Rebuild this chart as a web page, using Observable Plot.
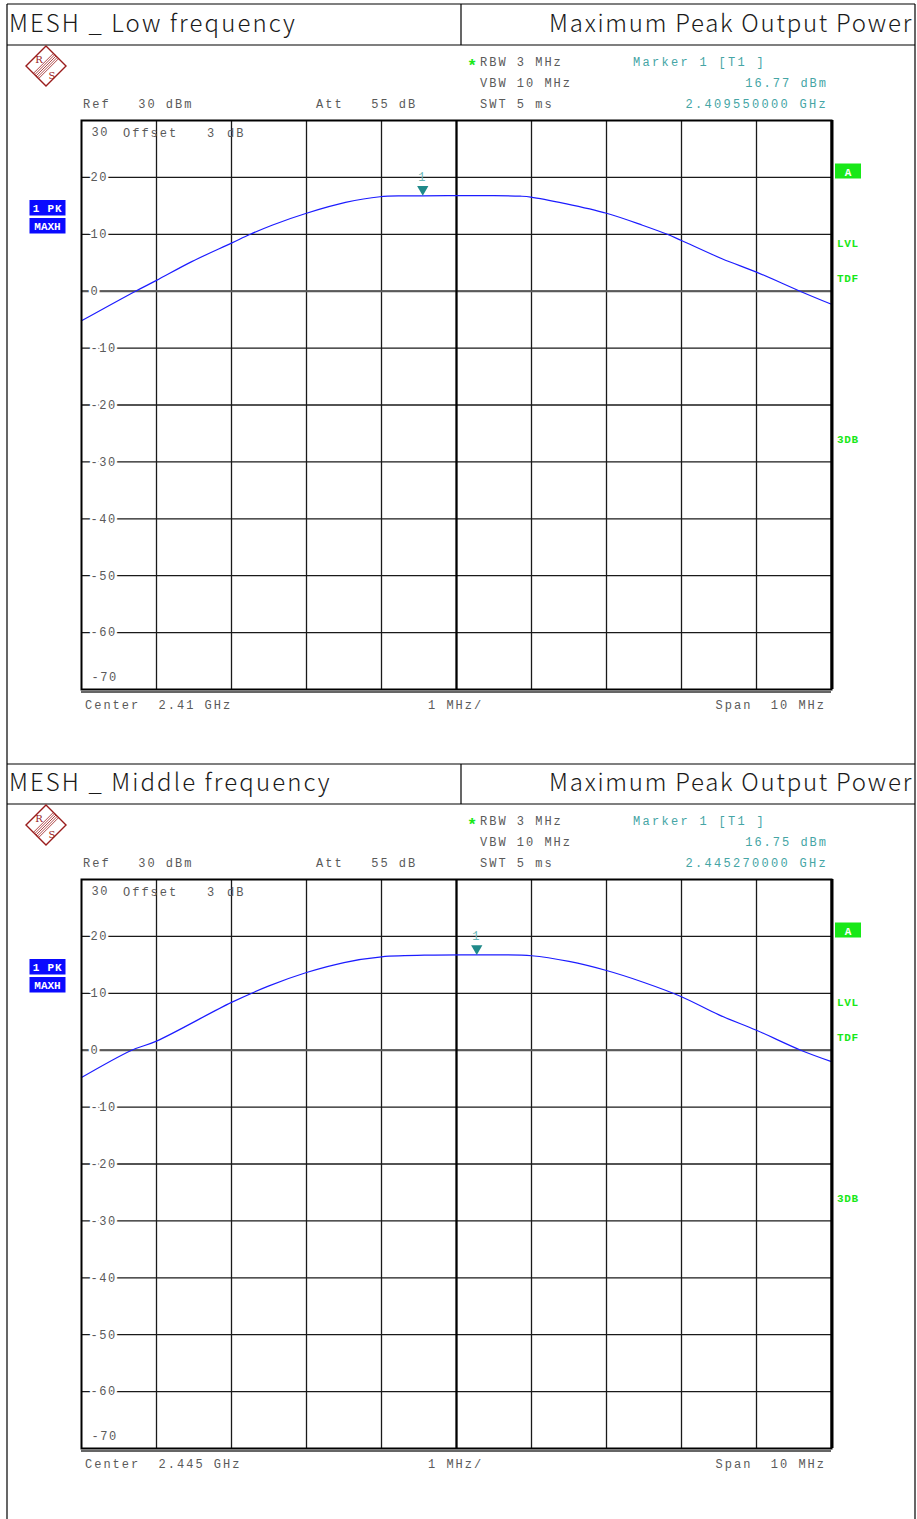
<!DOCTYPE html>
<html><head><meta charset="utf-8">
<script src="https://cdn.jsdelivr.net/npm/d3@7"></script>
<script src="https://cdn.jsdelivr.net/npm/@observablehq/plot@0.6"></script>
<style>
body{margin:0;background:#fff;}
#page{position:relative;width:917px;height:1519px;overflow:hidden;background:#fff;}
#page svg.plot{position:absolute;left:0;}
#page svg text{letter-spacing:1.6px;}
</style>
</head><body><div id="page"></div>
<script>
// ---- data ----
const panelTitles = ["MESH _ Low frequency", "MESH _ Middle frequency"];
const panelSubtitle = "Maximum Peak Output Power";
const centerLabels = ["Center  2.41 GHz", "Center  2.445 GHz"];
const markerLevels = [16.77, 16.75];
const markerFreqLabels = ["2.409550000 GHz", "2.445270000 GHz"];
const markerOffsets = [-0.45, 0.27];           // MHz from center
const yTicks = [20, 10, 0, -10, -20, -30, -40, -50, -60];
const yTop = 30, yBottom = -70;
const xTicks = [-4, -3, -2, -1, 0, 1, 2, 3, 4]; // MHz from center, 1 MHz/div

const offsetLow = [-5, -4.28, -4, -3.53, -3, -2.75, -2.46, -2, -1.48, -1.02, -0.7, -0.45, 0, 0.5, 0.85, 0.99, 1.45, 2, 2.48, 2.81, 3, 3.54, 4, 4.58, 5];
const levelLow  = [-5.2, 0, 1.9, 5.2, 8.45, 10, 11.6, 13.7, 15.6, 16.6, 16.75, 16.77, 16.8, 16.8, 16.7, 16.55, 15.4, 13.7, 11.6, 10, 8.9, 5.7, 3.35, 0, -2.3];

const offsetMid = [-5, -4.33, -4, -3, -2.5, -2, -1.5, -1, -0.3, 0.27, 1, 1.5, 2, 2.5, 3, 3.5, 4, 4.59, 5];
const levelMid  = [-4.8, 0, 1.6, 8.4, 11.3, 13.65, 15.4, 16.4, 16.72, 16.75, 16.6, 15.6, 14.0, 11.9, 9.4, 6.2, 3.5, 0, -2.0];

// ---- helpers ----
const MONO = "Liberation Mono, DejaVu Sans Mono, monospace";
const GRAY = "#5a5a5a", TEAL = "#45a5a5", GREEN = "#18e818", BLUE = "#0a0aff";

function spectrum(offsets, levels, mOff, mLvl, h, mb) {
  const data = offsets.map((x, i) => ({x, y: levels[i]}));
  const svg = Plot.plot({
    width: 917, height: h,
    marginLeft: 81, marginRight: 86, marginTop: 75, marginBottom: mb,
    x: {domain: [-5, 5], axis: null},
    y: {domain: [yBottom, yTop], axis: null},
    style: {background: "transparent", overflow: "visible"},
    marks: [
      Plot.ruleX(xTicks, {stroke: "#1a1a1a", strokeWidth: 1.3}),
      Plot.ruleY(yTicks, {stroke: "#1a1a1a", strokeWidth: 1.3}),
      Plot.ruleY([0], {stroke: "#5a5a5a", strokeWidth: 2}),
      Plot.ruleX([0], {stroke: "#000", strokeWidth: 2.2}),
      Plot.text(yTicks, {y: d => d, text: d => String(d), frameAnchor: "left", dx: 9, textAnchor: "start",
        fill: GRAY, stroke: "#fff", strokeWidth: 5, fontFamily: MONO, fontSize: 12}),
      Plot.text([yTop], {y: d => d, text: d => String(d), frameAnchor: "left", dx: 10, dy: 12, textAnchor: "start",
        fill: GRAY, fontFamily: MONO, fontSize: 12}),
      Plot.text([yBottom], {y: d => d, text: d => String(d), frameAnchor: "left", dx: 10, dy: -12.5, textAnchor: "start",
        fill: GRAY, fontFamily: MONO, fontSize: 12}),
      Plot.line(data, {x: "x", y: "y", stroke: "#1c1cff", strokeWidth: 1.2, curve: "catmull-rom"}),
      Plot.dot([{x: mOff, y: mLvl}], {x: "x", y: "y", symbol: "triangle", r: 4.2, rotate: 180,
        fill: "#1f8a8a", stroke: null, dy: -6.5}),
      Plot.text([{x: mOff, y: mLvl}], {x: "x", y: "y", text: () => "1", dy: -19, fill: "#6bb8b8",
        fontFamily: MONO, fontSize: 12}),
      Plot.frame({stroke: "#000", strokeWidth: 2}),
      Plot.ruleX([5], {stroke: "#000", strokeWidth: 3, dx: 0.5}),
      Plot.ruleY([yBottom], {stroke: "#333", strokeWidth: 1.5, dy: 2.5})
    ]
  });
  svg.classList.add("plot");
  return svg;
}

const page = document.getElementById("page");
const p1 = spectrum(offsetLow, levelLow, markerOffsets[0], markerLevels[0], 719, 75);
p1.style.top = "45px";
page.appendChild(p1);
const p2 = spectrum(offsetMid, levelMid, markerOffsets[1], markerLevels[1], 715, 71);
p2.style.top = "804px";
page.appendChild(p2);

// ---- overlay: page frame, headers, instrument annotations ----
const ov = d3.select(page).append("svg")
  .attr("width", 917).attr("height", 1519)
  .style("position", "absolute").style("left", 0).style("top", 0);

function line(x1, y1, x2, y2, w = 1.2, c = "#000") {
  ov.append("line").attr("x1", x1).attr("y1", y1).attr("x2", x2).attr("y2", y2)
    .attr("stroke", c).attr("stroke-width", w);
}
function txt(x, y, s, o = {}) {
  return ov.append("text").attr("x", x).attr("y", y).text(s)
    .attr("font-family", o.family || MONO).attr("font-size", o.size || 12)
    .attr("fill", o.fill || GRAY).attr("text-anchor", o.anchor || "start")
    .attr("font-weight", o.weight || "normal")
    .style("letter-spacing", o.ls !== undefined ? o.ls + "px" : "2px")
    .style("white-space", "pre").attr("xml:space", "preserve");
}

// page frame
line(7, 4, 7, 1519); line(915, 4, 915, 1519);
[4, 45, 764, 804].forEach(y => line(7, y, 915, y));
line(461, 4, 461, 45); line(461, 764, 461, 804);

const HEAD = "Noto Sans CJK KR, Noto Sans, sans-serif";
[0, 1].forEach(i => {
  const o = i * 759;
  const hy = i === 0 ? 32 : 791;
  txt(9, hy, panelTitles[i], {family: HEAD, size: 24, fill: "#1a1a1a", ls: 2.1, weight: 300});
  txt(913, hy, panelSubtitle, {family: HEAD, size: 24, fill: "#1a1a1a", anchor: "end", ls: 1.75, weight: 300});

  // R&S logo
  const g = ov.append("g").attr("transform", `translate(46,${66 + o})`);
  g.append("polygon").attr("points", "0,-20 20,0 0,20 -20,0").attr("fill", "none")
    .attr("stroke", "#9a1c1c").attr("stroke-width", 1.4);
  [-2, -1, 0, 1, 2].forEach(k => {
    const d = k * 1.3;
    g.append("line").attr("x1", 10 + d).attr("y1", -10 + d).attr("x2", -10 + d).attr("y2", 10 + d)
      .attr("stroke", "#9a1c1c").attr("stroke-width", 0.8);
  });
  g.append("text").attr("x", -7).attr("y", -3).attr("text-anchor", "middle").attr("font-size", 10)
    .attr("font-family", "DejaVu Serif, serif").attr("fill", "#9a1c1c").style("letter-spacing", "0px").text("R");
  g.append("text").attr("x", 6).attr("y", 13).attr("text-anchor", "middle").attr("font-size", 10)
    .attr("font-family", "DejaVu Serif, serif").attr("fill", "#9a1c1c").style("letter-spacing", "0px").text("S");

  // instrument settings
  txt(467, 71 + o, "*", {fill: GREEN, size: 17, weight: "bold", ls: 0});
  txt(480, 66 + o, "RBW 3 MHz");
  txt(480, 87 + o, "VBW 10 MHz");
  txt(480, 107.5 + o, "SWT 5 ms");
  txt(633, 66 + o, "Marker 1 [T1 ]", {fill: TEAL, ls: 2.3});
  txt(828, 87 + o, markerLevels[i].toFixed(2) + " dBm", {fill: TEAL, anchor: "end"});
  txt(828, 107.5 + o, markerFreqLabels[i], {fill: TEAL, anchor: "end", ls: 2.3});
  txt(83, 108 + o, "Ref   30 dBm");
  txt(316, 108 + o, "Att   55 dB");

  txt(123, 136.5 + o, "Offset");
  txt(207, 136.5 + o, "3");
  txt(227, 136.5 + o, "dB");

  txt(85, 709 + o, centerLabels[i]);
  txt(428, 709 + o, "1 MHz/");
  txt(826, 709 + o, "Span  10 MHz", {anchor: "end"});

  // left trace indicators
  ov.append("rect").attr("x", 29.5).attr("y", 200 + o).attr("width", 36).attr("height", 15.5).attr("fill", BLUE);
  ov.append("rect").attr("x", 29.5).attr("y", 218 + o).attr("width", 36).attr("height", 15.5).attr("fill", BLUE);
  txt(47.5, 212 + o, "1 PK", {fill: "#fff", size: 11, weight: "bold", anchor: "middle", ls: 0.8});
  txt(47.5, 230 + o, "MAXH", {fill: "#fff", size: 11, weight: "bold", anchor: "middle", ls: 0});

  // right side indicators
  ov.append("rect").attr("x", 835).attr("y", 163.5 + o).attr("width", 26).attr("height", 15).attr("fill", GREEN);
  txt(848, 175.5 + o, "A", {fill: "#fff", size: 11, weight: "bold", anchor: "middle", ls: 0});
  txt(837, 246.5 + o, "LVL", {fill: GREEN, size: 11, weight: "bold", ls: 0.6});
  txt(837, 282 + o, "TDF", {fill: GREEN, size: 11, weight: "bold", ls: 0.6});
  txt(837, 443 + o, "3DB", {fill: GREEN, size: 11, weight: "bold", ls: 0.6});
});
</script>
</body></html>
